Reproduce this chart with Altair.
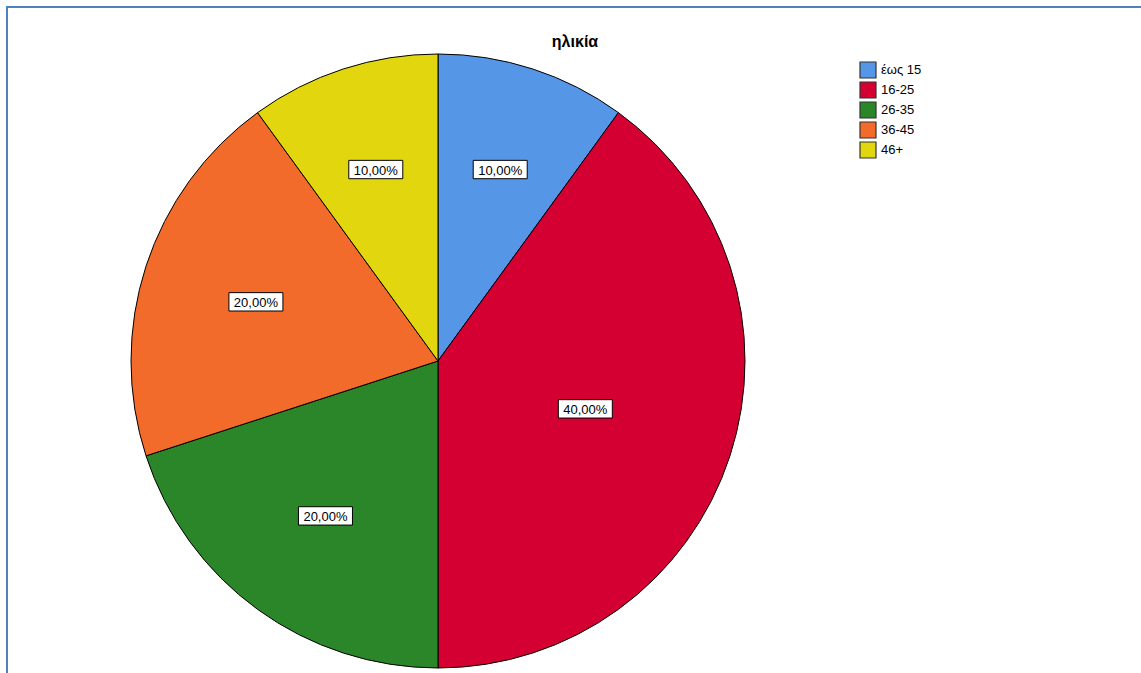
import altair as alt
import pandas as pd

# ---- data ----
title_text = "ηλικία"
categories = ["έως 15", "16-25", "26-35", "36-45", "46+"]
percents = [10.0, 40.0, 20.0, 20.0, 10.0]
label_texts = ["10,00%", "40,00%", "20,00%", "20,00%", "10,00%"]
slice_colors = ["#5596E6", "#D50032", "#2A8628", "#F26B2A", "#E2D70F"]

df = pd.DataFrame({
    "cat": categories,
    "pct": percents,
    "label": label_texts,
    "ord": list(range(len(categories))),
})

W, H = 1141, 673
CX, CY, R = 438, 361, 307
FONT = "Liberation Sans"
BORDER = "#4F81BD"

base = alt.Chart(df)

pie = base.mark_arc(radius=R, stroke="black", strokeWidth=1).encode(
    theta=alt.Theta("pct:Q", stack=True),
    color=alt.Color(
        "cat:N",
        scale=alt.Scale(domain=categories, range=slice_colors),
        sort=categories,
        legend=alt.Legend(
            title=None, orient="none", legendX=859, legendY=61,
            symbolType="square", symbolSize=256, symbolStrokeColor="#333333",
            symbolStrokeWidth=1.2, symbolOpacity=1, symbolFillColor="white",
            labelFontSize=13, labelFont=FONT, labelColor="black",
            rowPadding=-6, labelOffset=4, padding=0,
        ),
    ),
    order=alt.Order("ord:Q"),
    x=alt.value(CX),
    y=alt.value(CY),
)

# label positions: centroid of each sector, derived from the data
pos = base.transform_window(
    cum="sum(pct)", sort=[alt.SortField("ord")], frame=[None, 0]
).transform_joinaggregate(
    total="sum(pct)"
).transform_calculate(
    half="datum.pct / datum.total * PI",
    mid="(datum.cum - datum.pct / 2) / datum.total * 2 * PI",
).transform_calculate(
    rr="2 * sin(datum.half) / (3 * datum.half)",
).transform_calculate(
    lx="sin(datum.mid) * datum.rr",
    ly="cos(datum.mid) * datum.rr",
)

xenc = alt.X("lx:Q", scale=alt.Scale(domain=[-1, 1], range=[CX - R, CX + R]), axis=None)
yenc = alt.Y("ly:Q", scale=alt.Scale(domain=[-1, 1], range=[CY + R, CY - R]), axis=None)

boxes = pos.mark_point(
    shape="M-1,-0.34L1,-0.34L1,0.34L-1,0.34Z",
    size=54 * 54, filled=True, fill="white", stroke="black",
    strokeWidth=1, opacity=1,
).encode(x=xenc, y=yenc)

labels = pos.mark_text(
    font=FONT, fontSize=13, color="black", align="center", baseline="middle", dy=1
).encode(x=xenc, y=yenc, text="label:N")

title_df = pd.DataFrame({"t": [title_text]})
title = alt.Chart(title_df).mark_text(
    font=FONT, fontSize=16, fontWeight="bold", color="black",
    align="center", baseline="middle",
).encode(x=alt.value(575), y=alt.value(42), text="t:N")

rule_v = alt.Chart(title_df).mark_rule(color=BORDER, strokeWidth=2).encode(
    x=alt.value(7), y=alt.value(7), y2=alt.value(H)
)
rule_h = alt.Chart(title_df).mark_rule(color=BORDER, strokeWidth=2).encode(
    x=alt.value(6), x2=alt.value(W), y=alt.value(7)
)

chart = alt.layer(rule_v, rule_h, pie, boxes, labels, title).properties(
    width=W, height=H, autosize="none", padding=0, background="white"
).configure_view(stroke=None)

chart.save("out.html", embed_options={"renderer": "svg", "actions": False})
